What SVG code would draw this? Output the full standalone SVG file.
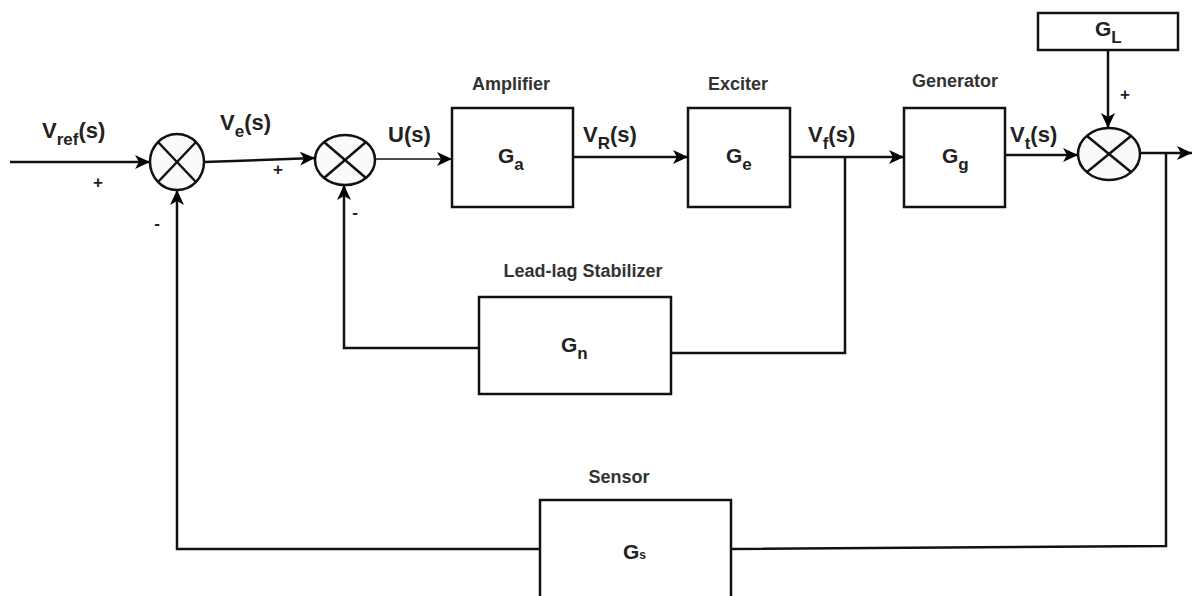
<svg xmlns="http://www.w3.org/2000/svg" width="1192" height="596" viewBox="0 0 1192 596">
<defs>
<marker id="arr" markerUnits="userSpaceOnUse" markerWidth="16" markerHeight="14" refX="15" refY="7" orient="auto">
<path d="M0,0 L15,7 L0,14 L4,7 Z" fill="#000"/>
</marker>
<style>
.box{fill:#fff;stroke:#111;stroke-width:2.5}
.sum{fill:#fafafa;stroke:#111;stroke-width:2.5}
.x{stroke:#111;stroke-width:2.5}
.ln{fill:none;stroke:#111;stroke-width:2.5}
.ttl{font-family:"Liberation Sans",Arial,sans-serif;font-size:18px;font-weight:bold;fill:#333;text-anchor:middle}
.sig{font-family:"Liberation Sans",Arial,sans-serif;font-size:22px;font-weight:bold;fill:#222}
.g{font-family:"Liberation Sans",Arial,sans-serif;font-size:21px;font-weight:bold;fill:#222}
.sgn{font-family:"Liberation Sans",Arial,sans-serif;font-size:17px;font-weight:bold;fill:#222;text-anchor:middle}
</style>
</defs>
<rect width="1192" height="596" fill="#fff"/>

<g id="connectors">
<path class="ln" d="M10,162 L150,162" marker-end="url(#arr)"/>
<path class="ln" d="M204,162 L315,158" marker-end="url(#arr)"/>
<path class="ln" d="M376,159 L452,159" style="stroke-width:1.5" marker-end="url(#arr)"/>
<path class="ln" d="M573,157 L688,157" marker-end="url(#arr)"/>
<path class="ln" d="M790,157 L904,157" marker-end="url(#arr)"/>
<path class="ln" d="M1005,155 L1078,155" marker-end="url(#arr)"/>
<path class="ln" d="M1108,50 L1108,128" marker-end="url(#arr)"/>
<path class="ln" d="M1140,153 L1192,153" marker-end="url(#arr)"/>
<path class="ln" d="M845,157 L845,353 L671,353"/>
<path class="ln" d="M479,348 L344,348 L344,185" marker-end="url(#arr)"/>
<path class="ln" d="M1166,153 L1166,546 L731,549"/>
<path class="ln" d="M540,549 L177,549 L177,190" marker-end="url(#arr)"/>
</g>

<g id="sum1">
<ellipse class="sum" cx="177" cy="162" rx="27" ry="28"/>
<line class="x" x1="158" y1="142" x2="196" y2="182"/>
<line class="x" x1="196" y1="142" x2="158" y2="182"/>
</g>
<g id="sum2">
<ellipse class="sum" cx="345" cy="160" rx="30" ry="25"/>
<line class="x" x1="324" y1="142" x2="366" y2="178"/>
<line class="x" x1="366" y1="142" x2="324" y2="178"/>
</g>
<g id="sum3">
<ellipse class="sum" cx="1109" cy="154" rx="31" ry="26"/>
<line class="x" x1="1087" y1="136" x2="1131" y2="172"/>
<line class="x" x1="1131" y1="136" x2="1087" y2="172"/>
</g>

<g id="amplifier">
<text class="ttl" x="511" y="90">Amplifier</text>
<rect class="box" x="452" y="108" width="121" height="99"/>
<text class="g" x="498" y="163">G<tspan font-size="17" dy="7">a</tspan></text>
</g>
<g id="exciter">
<text class="ttl" x="738" y="90">Exciter</text>
<rect class="box" x="688" y="108" width="102" height="99"/>
<text class="g" x="726" y="163">G<tspan font-size="17" dy="7">e</tspan></text>
</g>
<g id="generator">
<text class="ttl" x="955" y="87">Generator</text>
<rect class="box" x="904" y="108" width="101" height="99"/>
<text class="g" x="942" y="163">G<tspan font-size="17" dy="7">g</tspan></text>
</g>
<g id="load">
<rect class="box" x="1038" y="13" width="140" height="37"/>
<text class="g" x="1095" y="36">G<tspan font-size="17" dy="7">L</tspan></text>
</g>
<g id="stabilizer">
<text class="ttl" x="583" y="277">Lead-lag Stabilizer</text>
<rect class="box" x="479" y="297" width="192" height="97"/>
<text class="g" x="561" y="352">G<tspan font-size="17" dy="7">n</tspan></text>
</g>
<g id="sensor">
<text class="ttl" x="619" y="483">Sensor</text>
<rect class="box" x="540" y="500" width="191" height="100"/>
<text class="g" x="623" y="559">G<tspan font-size="12" dy="0">s</tspan></text>
</g>

<g id="labels">
<text class="sig" x="42" y="138">V<tspan font-size="17" dy="7">ref</tspan><tspan dy="-7">(s)</tspan></text>
<text class="sig" x="220" y="130">V<tspan font-size="17" dy="7">e</tspan><tspan dy="-7">(s)</tspan></text>
<text class="sig" x="388" y="142">U(s)</text>
<text class="sig" x="583" y="142">V<tspan font-size="17" dy="7">R</tspan><tspan dy="-7">(s)</tspan></text>
<text class="sig" x="808" y="142">V<tspan font-size="17" dy="7">f</tspan><tspan dy="-7">(s)</tspan></text>
<text class="sig" x="1010" y="142">V<tspan font-size="17" dy="7">t</tspan><tspan dy="-7">(s)</tspan></text>
<text class="sgn" x="98" y="188">+</text>
<text class="sgn" x="278" y="175">+</text>
<text class="sgn" x="1125" y="100">+</text>
<text class="sgn" x="157" y="229">-</text>
<text class="sgn" x="355" y="218">-</text>
</g>
</svg>
